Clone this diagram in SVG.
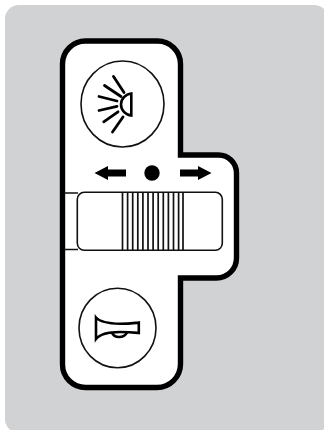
<svg xmlns="http://www.w3.org/2000/svg" width="324" height="430" viewBox="0 0 324 430">
<style>
.thin{fill:none;stroke:#111;stroke-width:1.6}
.ray{fill:none;stroke:#000;stroke-width:2.8;stroke-linecap:round}
.sym{fill:none;stroke:#000;stroke-width:2.6;stroke-linejoin:miter}
.stripe{stroke:#111;stroke-width:1.7}
</style>
<rect x="5" y="5" width="323" height="428" rx="14" fill="#d1d2d4"/>
<path id="body" d="M62.500 64A23 23 0 0 1 85.500 41H157.500A23 23 0 0 1 180.500 64V155H218.500A18 18 0 0 1 236.500 173V258A20 20 0 0 1 216.500 278H180.500V364A23.500 23.500 0 0 1 157 387.500H85.500A23 23 0 0 1 62.500 364.500Z" fill="#fff" stroke="#000" stroke-width="5.400"/>
<g id="headlight">
<ellipse class="thin" cx="122.500" cy="104" rx="41.500" ry="43"/>
<path class="sym" d="M131.300 93.500V115.500C125.500 115 121 110 121 104.500C121 99 125.500 94 131.300 93.500Z"/>
<path class="ray" d="M113.500 76.500L124 92.500M104.500 85.500L121 96.500M99 96.500L117 101M99 110.500L117 106.300M103.700 121.800L118 111.800M112.500 132L123 117"/>
</g>
<g id="indicators" fill="#000">
<path d="M94.500 173L108 166V169.500H126V176.500H108V180Z"/>
<ellipse cx="152" cy="173" rx="7.700" ry="7.800"/>
<path d="M211.500 173L198 166V169.500H180V176.500H198V180Z"/>
</g>
<g id="slider">
<path class="thin" d="M64 193H78M64 249.500H78"/>
<rect class="thin" x="77.300" y="192.300" width="145" height="58" rx="7"/>
<path class="stripe" d="M122.500 192V250M127.600 192V250M132.700 192V250M137.800 192V250M142.900 192V250M148 192V250M153.100 192V250M158.200 192V250M163.300 192V250M168.400 192V250M173.500 192V250M178.600 192V250M183 192V250"/>
</g>
<g id="horn">
<ellipse class="thin" cx="117.500" cy="328" rx="38.500" ry="39.700"/>
<path class="sym" d="M96 317.500C100 322 108 323.500 120 323.800C130 323.800 134 323 138.800 322.500V333C134 332.500 130 332 120 332C108 332 100 334 96 339Z"/>
<path class="sym" d="M112 332.500C114 338.500 124 338.500 127 332.500"/>
</g>
</svg>
